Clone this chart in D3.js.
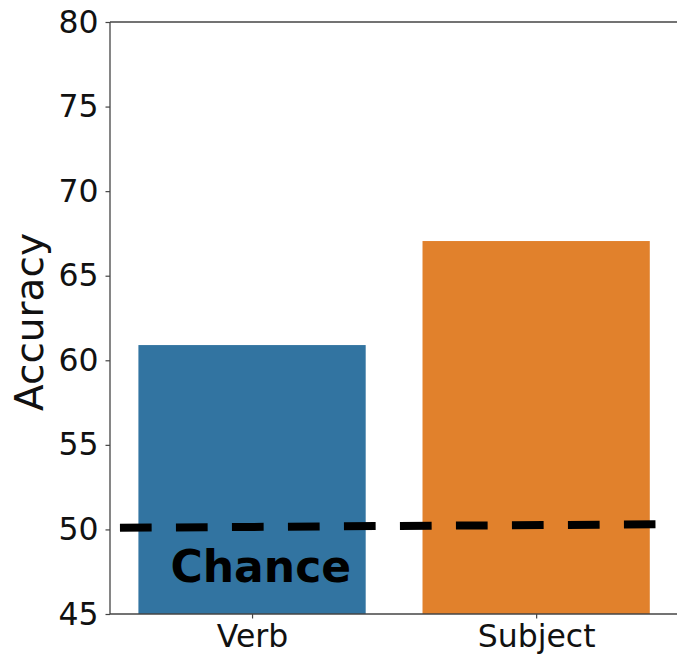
<!DOCTYPE html>
<html>
<head>
<meta charset="utf-8">
<script src="https://cdn.jsdelivr.net/npm/d3@7"></script>
<style>
  html, body { margin: 0; padding: 0; background: #fff; }
  svg { display: block; }
  text { font-family: "DejaVu Sans", sans-serif; }
</style>
</head>
<body>
<svg id="chart" width="677" height="657"></svg>
<script>
// ---- data ----
const categories = ["Verb", "Subject"];
const accuracy = [60.9, 67.05];
const barColors = ["#3274a1", "#e1812c"];
const yTicks = [45, 50, 55, 60, 65, 70, 75, 80];
const yDomain = [45, 80];
const chanceLine = [{ x: -0.465, y: 50.1 }, { x: 1.42, y: 50.3 }];
const chanceLabel = { text: "Chance", x: -0.287, y: 46.9 };
const yLabel = "Accuracy";

// ---- layout ----
const svg = d3.select("#chart");
const mLeft = 110, mRight = 678.2, mTop = 22, mBottom = 614;

const xIdx = d3.scaleLinear().domain([-0.5, 1.5]).range([mLeft, mRight]);
const y = d3.scaleLinear().domain(yDomain).range([mBottom, mTop]);
const barW = 0.8;

// bars
svg.append("g").selectAll("rect")
  .data(categories.map((c, i) => ({ c, i, v: accuracy[i] })))
  .join("rect")
  .attr("x", d => xIdx(d.i - barW / 2))
  .attr("width", d => xIdx(d.i + barW / 2) - xIdx(d.i - barW / 2))
  .attr("y", d => y(d.v))
  .attr("height", d => y(yDomain[0]) - y(d.v))
  .attr("fill", (d, i) => barColors[i]);

// chance dashed line
svg.append("path")
  .datum(chanceLine)
  .attr("d", d3.line().x(d => xIdx(d.x)).y(d => y(d.y)))
  .attr("stroke", "#000")
  .attr("stroke-width", 8)
  .attr("stroke-dasharray", "31.7 24.3")
  .attr("fill", "none");

// chance label
svg.append("text")
  .attr("x", xIdx(chanceLabel.x))
  .attr("y", y(chanceLabel.y))
  .attr("font-size", 44)
  .attr("font-weight", "bold")
  .attr("fill", "#000")
  .text(chanceLabel.text);

// y axis
const yAxis = d3.axisLeft(y).tickValues(yTicks).tickSize(4.5).tickPadding(7).tickFormat(d3.format("d"));
const gy = svg.append("g").attr("transform", `translate(${mLeft},0)`).call(yAxis);
gy.select(".domain").remove();
gy.selectAll(".tick line").attr("stroke", "#444").attr("stroke-width", 1.2);
gy.selectAll(".tick text").attr("font-size", 31.5).attr("fill", "#111")
  .attr("font-family", "DejaVu Sans, sans-serif");

// x axis
const xBand = d3.scalePoint().domain(categories).range([xIdx(0), xIdx(1)]);
const xAxis = d3.axisBottom(xBand).tickSize(4.5).tickPadding(6);
const gx = svg.append("g").attr("transform", `translate(0,${mBottom})`).call(xAxis);
gx.select(".domain").remove();
gx.selectAll(".tick line").attr("stroke", "#444").attr("stroke-width", 1.2);
gx.selectAll(".tick text").attr("font-size", 31.5).attr("fill", "#111")
  .attr("font-family", "DejaVu Sans, sans-serif");

// spines
const sp = svg.append("g").attr("stroke", "#444").attr("stroke-width", 1.3).attr("fill", "none");
sp.append("line").attr("x1", mLeft).attr("x2", mLeft).attr("y1", mTop).attr("y2", mBottom);
sp.append("line").attr("x1", mLeft).attr("x2", mRight).attr("y1", mTop).attr("y2", mTop);
sp.append("line").attr("x1", mLeft).attr("x2", mRight).attr("y1", mBottom).attr("y2", mBottom);
sp.append("line").attr("x1", mRight).attr("x2", mRight).attr("y1", mTop).attr("y2", mBottom);

// y label
svg.append("text")
  .attr("transform", `translate(43,${(mTop + mBottom) / 2 + 4}) rotate(-90)`)
  .attr("text-anchor", "middle")
  .attr("font-size", 39)
  .attr("fill", "#111")
  .text(yLabel);
</script>
</body>
</html>
